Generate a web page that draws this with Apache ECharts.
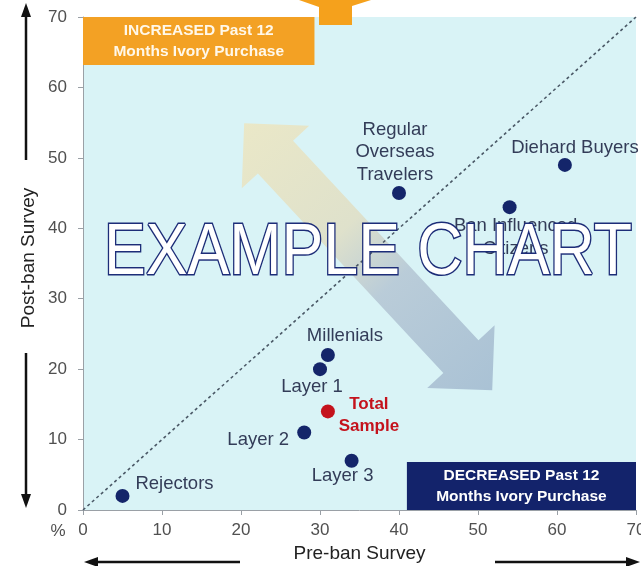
<!DOCTYPE html>
<html><head><meta charset="utf-8">
<script src="https://cdn.jsdelivr.net/npm/echarts@6/dist/echarts.min.js"></script>
<style>html,body{margin:0;padding:0;background:#fff}#c{width:641px;height:566px}</style>
</head><body><div id="c"></div>
<script>
// ---- data ----
const segments = ['Rejectors','Layer 2','Layer 3','Layer 1','Millenials','Total Sample','Regular Overseas Travelers','Ban Influenced Citizens','Diehard Buyers'];
const labelTexts = ['Rejectors','Layer 2','Layer 3','Layer 1','Millenials','Total\nSample','Regular\nOverseas\nTravelers','Ban Influenced\nCitizens','Diehard Buyers'];
const preBan  = [5, 28, 34, 30, 31, 31, 40, 54, 61];
const postBan = [2, 11,  7, 20, 22, 14, 45, 43, 49];
const axisMin = 0, axisMax = 70, axisStep = 10;
const increasedText = 'INCREASED Past 12\nMonths Ivory Purchase';
const decreasedText = 'DECREASED Past 12\nMonths Ivory Purchase';

// ---- styling / layout ----
const FONT = "'Liberation Sans', Arial, sans-serif";
const NAVY = '#14256a', RED = '#c4121c', LBL = '#333c58';
const labelOffsets = {
  'Rejectors':[52,-12], 'Layer 2':[-46,7], 'Layer 3':[-9,15], 'Layer 1':[-8,18],
  'Millenials':[17,-19], 'Total Sample':[41,4], 'Regular Overseas Travelers':[-4,-41],
  'Ban Influenced Citizens':[6,30], 'Diehard Buyers':[10,-17]
};

const chart = echarts.init(document.getElementById('c'), null, {renderer:'canvas'});

const scatterData = segments.map((s, i) => {
  const isTotal = s === 'Total Sample';
  return {
    name: s,
    value: [preBan[i], postBan[i]],
    itemStyle: {color: isTotal ? RED : NAVY, opacity: 1},
    label: {
      show: true, position: 'inside', offset: labelOffsets[s],
      formatter: labelTexts[i],
      color: isTotal ? RED : LBL,
      fontSize: isTotal ? 17 : 18.5,
      fontWeight: isTotal ? 'bold' : 'normal',
      lineHeight: isTotal ? 22 : 22.5,
      fontFamily: FONT, align: 'center', verticalAlign: 'middle'
    }
  };
});

const option = {
  animation: false,
  backgroundColor: '#ffffff',
  grid: {left: 83, right: 5, top: 17, bottom: 56, containLabel: false, outerBoundsMode: 'none',
         show: true, backgroundColor: '#d9f3f6', borderWidth: 0},
  xAxis: {
    type: 'value', min: axisMin, max: axisMax, interval: axisStep,
    name: 'Pre-ban Survey', nameLocation: 'middle', nameGap: 34,
    nameTextStyle: {fontSize: 19, color: '#222', fontFamily: FONT},
    axisLine: {show: true, lineStyle: {color: '#9aa0a6', width: 1}},
    axisTick: {show: true, length: 5, lineStyle: {color: '#9aa0a6'}},
    axisLabel: {fontSize: 17, color: '#505050', margin: 12, fontFamily: FONT},
    splitLine: {show: false}
  },
  yAxis: {
    type: 'value', min: axisMin, max: axisMax, interval: axisStep,
    axisLine: {show: true, lineStyle: {color: '#9aa0a6', width: 1}},
    axisTick: {show: true, length: 5, lineStyle: {color: '#9aa0a6'}},
    axisLabel: {fontSize: 17, color: '#505050', margin: 16, fontFamily: FONT},
    splitLine: {show: false}
  },
  series: [
    {
      type: 'line', z: 3, silent: true, symbol: 'none',
      data: [[axisMin, axisMin], [axisMax, axisMax]],
      lineStyle: {color: '#4a5866', width: 1.6, type: [3, 3]},
      markArea: {
        silent: true,
        data: [
          [{xAxis: 0, yAxis: 70, itemStyle: {color: '#f3a124', opacity: 1},
            label: {show: true, position: 'inside', formatter: increasedText, color: '#fff8ea', fontSize: 15.5, fontWeight: 'bold', lineHeight: 21, fontFamily: FONT}},
           {xAxis: 29.3, yAxis: 63.2}],
          [{xAxis: 41, yAxis: 6.8, itemStyle: {color: '#13236b', opacity: 1},
            label: {show: true, position: 'inside', formatter: decreasedText, color: '#ffffff', fontSize: 15.5, fontWeight: 'bold', lineHeight: 21, fontFamily: FONT}},
           {xAxis: 70, yAxis: 0}]
        ]
      }
    },
    {
      type: 'scatter', z: 4, symbolSize: 14,
      data: scatterData
    }
  ]
};
chart.setOption(option);

// ---- decorative graphics ----
const arrowTipA = [20.4, 54.9], arrowTipB = [51.8, 17.0];
const A = chart.convertToPixel({gridIndex: 0}, arrowTipA);
const B = chart.convertToPixel({gridIndex: 0}, arrowTipB);
const dx = B[0]-A[0], dy = B[1]-A[1], L = Math.hypot(dx, dy);
const u = [dx/L, dy/L], n = [-u[1], u[0]];
const h = 46, w = 46, s = 24;
const P = (base, a, b) => [base[0] + u[0]*a + n[0]*b, base[1] + u[1]*a + n[1]*b];
const arrowPts = [
  A, P(A, h, w), P(A, h, s), P(B, -h, s), P(B, -h, w), B,
  P(B, -h, -w), P(B, -h, -s), P(A, h, -s), P(A, h, -w)
];

chart.setOption({
  graphic: [
    {type: 'polygon', z: 1, silent: true, shape: {points: arrowPts},
     style: {fill: new echarts.graphic.LinearGradient(A[0], A[1], B[0], B[1], [
       {offset: 0, color: '#ebe7c5'}, {offset: 0.4, color: '#dfe0c9'}, {offset: 0.6, color: '#b8cad7'}, {offset: 1, color: '#a7bfd3'}], true),
       opacity: 0.95}},
    // orange arrow at the top
    {type: 'polygon', z: 1, silent: true,
     shape: {points: [[299,0],[371,0],[352,6],[352,25],[319,25],[319,7]]},
     style: {fill: '#f5a11c'}},
    // vertical axis arrows
    {type: 'line', silent: true, shape: {x1: 26, y1: 160, x2: 26, y2: 14}, style: {stroke: '#111', lineWidth: 2.5}},
    {type: 'polygon', silent: true, shape: {points: [[21,17],[31,17],[26,3]]}, style: {fill: '#111'}},
    {type: 'line', silent: true, shape: {x1: 26, y1: 353, x2: 26, y2: 496}, style: {stroke: '#111', lineWidth: 2.5}},
    {type: 'polygon', silent: true, shape: {points: [[21,494],[31,494],[26,508]]}, style: {fill: '#111'}},
    {type: 'text', silent: true, x: 29, y: 258, rotation: Math.PI/2,
     style: {text: 'Post-ban Survey', fill: '#222', font: '19px ' + FONT, textAlign: 'center', textVerticalAlign: 'middle'}},
    {type: 'text', silent: true, x: 58, y: 531,
     style: {text: '%', fill: '#505050', font: '17px ' + FONT, textAlign: 'center', textVerticalAlign: 'middle'}},
    // horizontal axis arrows
    {type: 'line', silent: true, shape: {x1: 240, y1: 562, x2: 96, y2: 562}, style: {stroke: '#111', lineWidth: 2.5}},
    {type: 'polygon', silent: true, shape: {points: [[98,557],[98,567],[84,562]]}, style: {fill: '#111'}},
    {type: 'line', silent: true, shape: {x1: 495, y1: 562, x2: 628, y2: 562}, style: {stroke: '#111', lineWidth: 2.5}},
    {type: 'polygon', silent: true, shape: {points: [[626,557],[626,567],[640,562]]}, style: {fill: '#111'}},
    // watermark
    {type: 'text', silent: true, z: 100, x: 368, y: 254, scaleX: 0.87,
     style: {text: 'EXAMPLE CHART', fill: '#ffffff', stroke: '#1d2d78', lineWidth: 3,
             font: '72px ' + FONT, textAlign: 'center', textVerticalAlign: 'middle'}}
  ]
});
</script>
</body></html>
